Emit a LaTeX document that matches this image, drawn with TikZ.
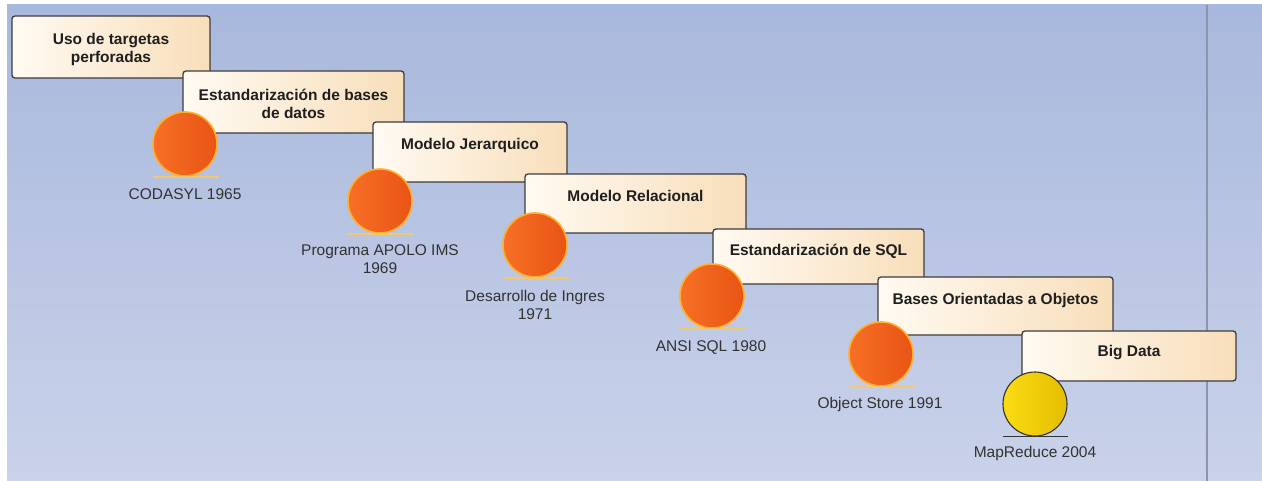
\documentclass[tikz,border=0pt]{standalone}
\usepackage{fontspec}
\setmainfont{Liberation Sans}
\usetikzlibrary{positioning}

\definecolor{bgtop}{RGB}{168,184,220}
\definecolor{bgbot}{RGB}{202,210,234}
\definecolor{boxleft}{RGB}{255,250,242}
\definecolor{boxright}{RGB}{248,222,186}
\definecolor{boxedge}{RGB}{60,60,60}
\definecolor{orangeleft}{RGB}{247,112,38}
\definecolor{orangeright}{RGB}{232,84,20}
\definecolor{orangeglow}{RGB}{255,176,46}
\definecolor{orangebase}{RGB}{244,200,110}
\definecolor{yellowleft}{RGB}{250,220,20}
\definecolor{yellowright}{RGB}{228,190,0}
\definecolor{labelgrey}{RGB}{50,50,50}
\definecolor{divider}{RGB}{140,150,168}

\tikzset{
  evbox/.style={draw=boxedge, line width=1.3pt, rounded corners=3pt,
    left color=boxleft, right color=boxright, inner sep=0pt},
  boxtext/.style={font=\fontsize{15.5}{18}\selectfont\bfseries,
    text=black!88, align=center, inner sep=0pt},
  milestone/.style={circle, minimum size=64pt, inner sep=0pt,
    left color=orangeleft, right color=orangeright,
    draw=orangeglow, line width=1.6pt},
  bigmilestone/.style={circle, minimum size=64pt, inner sep=0pt,
    left color=yellowleft, right color=yellowright,
    draw=black!80, line width=1.1pt},
  baseglow/.style={draw=orangebase, line width=2pt},
  basedark/.style={draw=black!80, line width=1.4pt},
  evlabel/.style={font=\fontsize{15.5}{18}\selectfont, text=labelgrey,
    align=center, inner sep=0pt}
}

\begin{document}
\begin{tikzpicture}[x=1pt, y=-1pt]
  % page and backdrop
  \fill[white] (0,0) rectangle (1262,481);
  \useasboundingbox (0,0) rectangle (1262,481);
  \shade[top color=bgtop, bottom color=bgbot] (7,5) rectangle (1262,481);
  \coordinate (divtop) at (1207,5);
  \coordinate (divbot) at (1207,481);
  \draw[divider, line width=2pt] (divtop) -- (divbot);

  % event boxes, each overlapping the previous one
  \node[evbox, minimum width=198pt, minimum height=62pt] (b1) at (111,47) {};
  \node[boxtext] (t1) at (111,49) {Uso de targetas\\perforadas};
  \node[evbox, minimum width=221pt, minimum height=62pt] (b2) at (293.5,102) {};
  \node[boxtext] (t2) at (293.5,104) {Estandarización de bases\\de datos};
  \node[evbox, minimum width=194pt, minimum height=60pt] (b3) at (470,152) {};
  \node[boxtext] (t3) at (470,145) {Modelo Jerarquico};
  \node[evbox, minimum width=221pt, minimum height=59pt] (b4) at (635.5,203.5) {};
  \node[boxtext] (t4) at (635.5,196) {Modelo Relacional};
  \node[evbox, minimum width=211pt, minimum height=55pt] (b5) at (818.5,256.5) {};
  \node[boxtext] (t5) at (818.5,251) {Estandarización de SQL};
  \node[evbox, minimum width=235pt, minimum height=58pt] (b6) at (995.5,306) {};
  \node[boxtext] (t6) at (995.5,300) {Bases Orientadas a Objetos};
  \node[evbox, minimum width=214pt, minimum height=50pt] (b7) at (1129,356) {};
  \node[boxtext] (t7) at (1129,353) {Big Data};

  % milestones with their base lines and captions
  \node[milestone] (c1) at (185,144) {};
  \draw[baseglow] ([xshift=-32pt]c1.south) -- ([xshift=34pt]c1.south);
  \node[evlabel] (l1) at (185,194) {CODASYL 1965};

  \node[milestone] (c2) at (380,201) {};
  \draw[baseglow] ([xshift=-32pt]c2.south) -- ([xshift=34pt]c2.south);
  \node[evlabel] (l2) at (380,259) {Programa APOLO IMS\\1969};

  \node[milestone] (c3) at (535,245) {};
  \draw[baseglow] ([xshift=-32pt]c3.south) -- ([xshift=34pt]c3.south);
  \node[evlabel] (l3) at (535,305) {Desarrollo de Ingres\\1971};

  \node[milestone] (c4) at (712,296) {};
  \draw[baseglow] ([xshift=-32pt]c4.south) -- ([xshift=34pt]c4.south);
  \node[evlabel] (l4) at (711,348) {ANSI SQL 1980};

  \node[milestone] (c5) at (881,354) {};
  \draw[baseglow] ([xshift=-32pt]c5.south) -- ([xshift=34pt]c5.south);
  \node[evlabel] (l5) at (880,404) {Object Store 1991};

  \node[bigmilestone] (c6) at (1035,404) {};
  \draw[basedark] ([xshift=-32pt]c6.south) -- ([xshift=33pt]c6.south);
  \node[evlabel] (l6) at (1035,453) {MapReduce 2004};
\end{tikzpicture}
\end{document}
